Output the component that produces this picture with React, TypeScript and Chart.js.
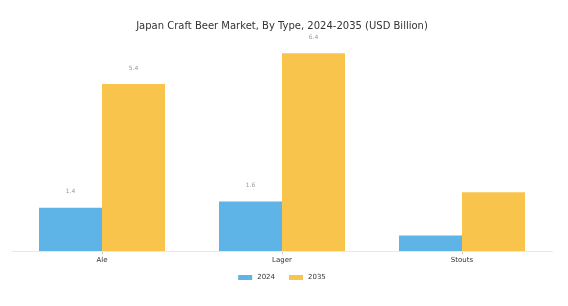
import React, { useEffect, useRef } from "react";
import { Chart, registerables } from "chart.js";

Chart.register(...registerables);

const categories = ["Ale", "Lager", "Stouts"];
const series2024 = [1.4, 1.6, 0.5];
const series2035 = [5.4, 6.4, 1.9];
const seriesNames = ["2024", "2035"];
const seriesColors = ["#5EB4E7", "#F9C44B"];
const labelledCategories = [true, true, false];

const FONT = "'DejaVu Sans', sans-serif";

const valueLabels = {
  id: "valueLabels",
  afterDatasetsDraw(chart: any) {
    const ctx = chart.ctx;
    ctx.save();
    ctx.font = `6px ${FONT}`;
    ctx.fillStyle = "#999999";
    ctx.textAlign = "center";
    ctx.textBaseline = "middle";
    chart.data.datasets.forEach((ds: any, di: number) => {
      const meta = chart.getDatasetMeta(di);
      meta.data.forEach((bar: any, i: number) => {
        if (!labelledCategories[i]) return;
        ctx.fillText(String(ds.data[i]), bar.x, bar.y - 16);
      });
    });
    ctx.restore();
  },
};

const bottomLegend = {
  id: "bottomLegend",
  afterDraw(chart: any) {
    const ctx = chart.ctx;
    ctx.save();
    ctx.font = `7px ${FONT}`;
    ctx.textBaseline = "middle";
    ctx.textAlign = "left";
    const boxW = 14;
    const boxH = 5;
    const gap = 5;
    const spacing = 14;
    const items = chart.data.datasets.map((ds: any) => ({
      text: ds.label,
      color: ds.backgroundColor,
      w: ctx.measureText(ds.label).width,
    }));
    const total =
      items.reduce((s: number, it: any) => s + boxW + gap + it.w, 0) +
      spacing * (items.length - 1);
    const cx = (chart.chartArea.left + chart.chartArea.right) / 2;
    let x = cx - total / 2;
    const y = 277.5;
    items.forEach((it: any) => {
      ctx.fillStyle = it.color;
      ctx.fillRect(x, y - boxH / 2, boxW, boxH);
      ctx.fillStyle = "#333333";
      ctx.fillText(it.text, x + boxW + gap, y);
      x += boxW + gap + it.w + spacing;
    });
    ctx.restore();
  },
};

export default function App() {
  const ref = useRef<HTMLCanvasElement>(null);
  useEffect(() => {
    document.body.style.margin = "0";
    const chart = new Chart(ref.current as HTMLCanvasElement, {
      type: "bar",
      data: {
        labels: categories,
        datasets: [
          {
            label: seriesNames[0],
            data: series2024,
            backgroundColor: seriesColors[0],
            barPercentage: 1,
            categoryPercentage: 0.7,
          },
          {
            label: seriesNames[1],
            data: series2035,
            backgroundColor: seriesColors[1],
            barPercentage: 1,
            categoryPercentage: 0.7,
          },
        ],
      },
      options: {
        responsive: false,
        animation: false,
        layout: { padding: { left: 12, right: 16, top: 20.5, bottom: 39.6 } },
        plugins: {
          title: {
            display: true,
            text: "Japan Craft Beer Market, By Type, 2024-2035 (USD Billion)",
            color: "#333333",
            font: { family: FONT, size: 10, weight: "normal", lineHeight: 1.2 },
            padding: { top: 0, bottom: 2.1 },
          },
          legend: { display: false },
          tooltip: { enabled: false },
        },
        scales: {
          x: {
            grid: {
              display: true,
              drawOnChartArea: false,
              offset: false,
              tickLength: 3,
              color: "#cccccc",
            },
            border: { display: true, color: "#e8e8e8" },
            ticks: {
              color: "#333333",
              padding: 2,
              font: { family: FONT, size: 7, lineHeight: 1.2 },
            },
          },
          y: {
            display: false,
            min: 0,
            max: 7,
          },
        },
      },
      plugins: [valueLabels, bottomLegend],
    });
    return () => chart.destroy();
  }, []);
  return (
    <div style={{ width: 568, height: 306 }}>
      <canvas ref={ref} width={568} height={306} />
    </div>
  );
}
